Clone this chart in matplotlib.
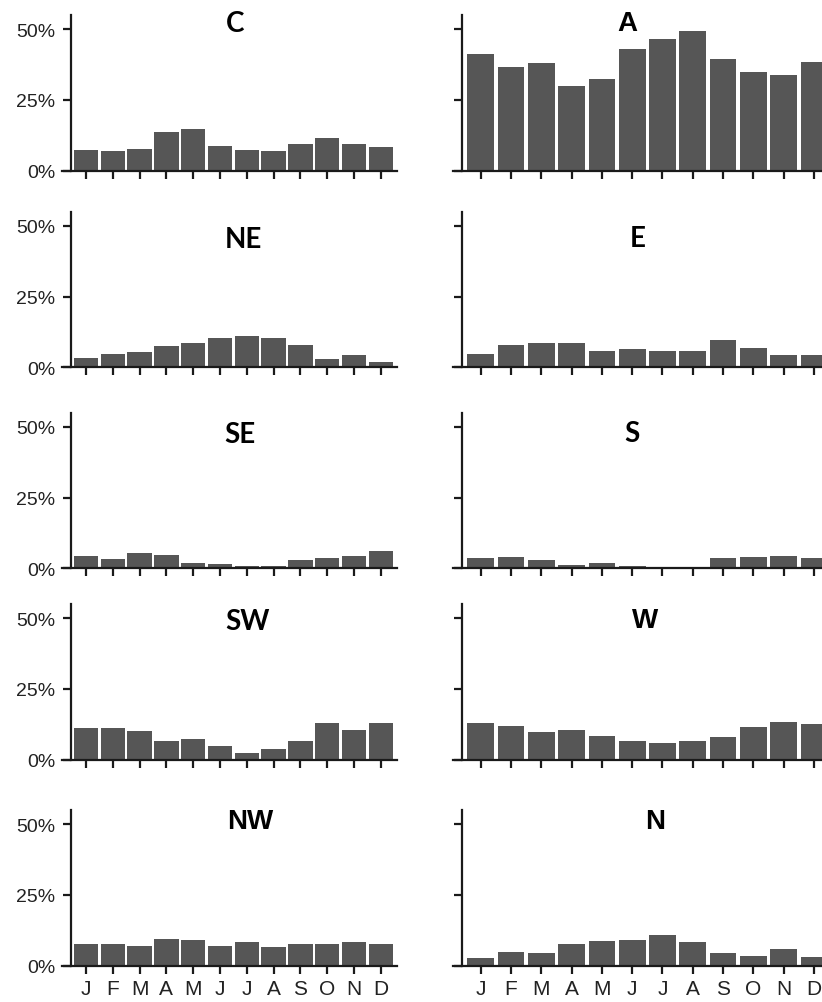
import numpy as np
from matplotlib import pyplot as plt

# monthly share (%) of each weather type
months = ['J', 'F', 'M', 'A', 'M', 'J', 'J', 'A', 'S', 'O', 'N', 'D']
C = [7.4, 7.0, 7.7, 13.8, 14.7, 8.8, 7.2, 6.8, 9.3, 11.6, 9.6, 8.5]
A = [41.1, 36.5, 38.1, 30.0, 32.3, 43.1, 46.5, 49.5, 39.3, 34.7, 33.8, 38.4]
NE = [3.3, 4.8, 5.3, 7.4, 8.7, 10.2, 11.2, 10.2, 7.8, 3.1, 4.4, 2.0]
E = [4.6, 7.8, 8.5, 8.5, 5.6, 6.5, 5.6, 5.6, 9.8, 6.7, 4.4, 4.4]
SE = [4.4, 3.3, 5.4, 4.8, 2.0, 1.6, 0.8, 0.8, 2.8, 3.5, 4.5, 6.2]
S = [3.6, 4.1, 2.9, 1.1, 1.8, 0.8, 0.1, 0.1, 3.5, 4.1, 4.2, 3.8]
SW = [11.2, 11.2, 10.0, 6.6, 7.4, 5.0, 2.3, 3.7, 6.6, 13.1, 10.6, 12.8]
W = [12.8, 11.9, 9.9, 10.4, 8.5, 6.6, 5.8, 6.6, 7.9, 11.6, 13.4, 12.5]
NW = [7.5, 7.5, 7.1, 9.3, 9.1, 6.8, 8.5, 6.6, 7.5, 7.5, 8.5, 7.5]
N = [2.8, 4.9, 4.5, 7.5, 8.9, 9.2, 10.9, 8.4, 4.5, 3.6, 6.0, 3.2]

panels = [('C', C), ('A', A), ('NE', NE), ('E', E), ('SE', SE),
          ('S', S), ('SW', SW), ('W', W), ('NW', NW), ('N', N)]
yticks = [0, 25, 50]
ytick_labels = ['0%', '25%', '50%']

W_PX, H_PX = 822, 1003
baselines = [171.7, 368.3, 569.3, 760.7, 966.7]   # px from top
# title centres in px (x, y from top)
title_pos = {'C': (235, 24), 'A': (627, 24), 'NE': (243, 240), 'E': (638, 239),
             'SE': (240, 435), 'S': (632, 434), 'SW': (247, 622), 'W': (645, 621),
             'NW': (250, 822), 'N': (655, 822)}
calibri_like = {'C', 'NE', 'E', 'SE', 'S', 'SW'}

bar_color = '#565656'
ink = '#1a1a1a'
x = np.arange(12)

fig = plt.figure(figsize=(W_PX / 100, H_PX / 100), dpi=100)

for i, (name, vals) in enumerate(panels):
    row, col = divmod(i, 2)
    if col == 0:
        left, width, yspine, bw = 61.9, 334.9, -0.56, 0.91
    else:
        left, width, yspine, bw = 453.4, 378.8, -0.61, 0.88
    height = 155.65
    bottom = H_PX - baselines[row]
    ax = fig.add_axes([left / W_PX, bottom / H_PX, width / W_PX, height / H_PX])
    ax.bar(x, vals, width=bw, color=bar_color, edgecolor='none')
    ax.set_xlim(-0.9, 11.6)
    ax.set_ylim(0, 55)

    for s in ['top', 'right']:
        ax.spines[s].set_visible(False)
    ax.spines['left'].set_position(('data', yspine))
    for s in ['left', 'bottom']:
        ax.spines[s].set_linewidth(1.6)
        ax.spines[s].set_color(ink)

    ax.set_xticks(x)
    ax.set_yticks(yticks)
    ax.tick_params(axis='both', direction='out', width=1.6, color=ink,
                   labelcolor='#222222')
    ax.tick_params(axis='x', length=5.8, pad=4)
    ax.tick_params(axis='y', length=5.5, pad=6)
    if row == 4:
        ax.set_xticklabels(months, fontsize=15, family='Liberation Sans')
    else:
        ax.set_xticklabels([])
    if col == 0:
        ax.set_yticklabels(ytick_labels, fontsize=14, family='Liberation Sans')
    else:
        ax.set_yticklabels([])
    ax.patch.set_alpha(0)

    tx, ty = title_pos[name]
    fam = 'Lato' if name in calibri_like else 'Liberation Sans'
    fig.text(tx / W_PX, 1 - ty / H_PX, name, ha='center', va='center',
             fontsize=20, fontweight='bold', family=fam, color='black')

fig.savefig('out.png', dpi=100)
